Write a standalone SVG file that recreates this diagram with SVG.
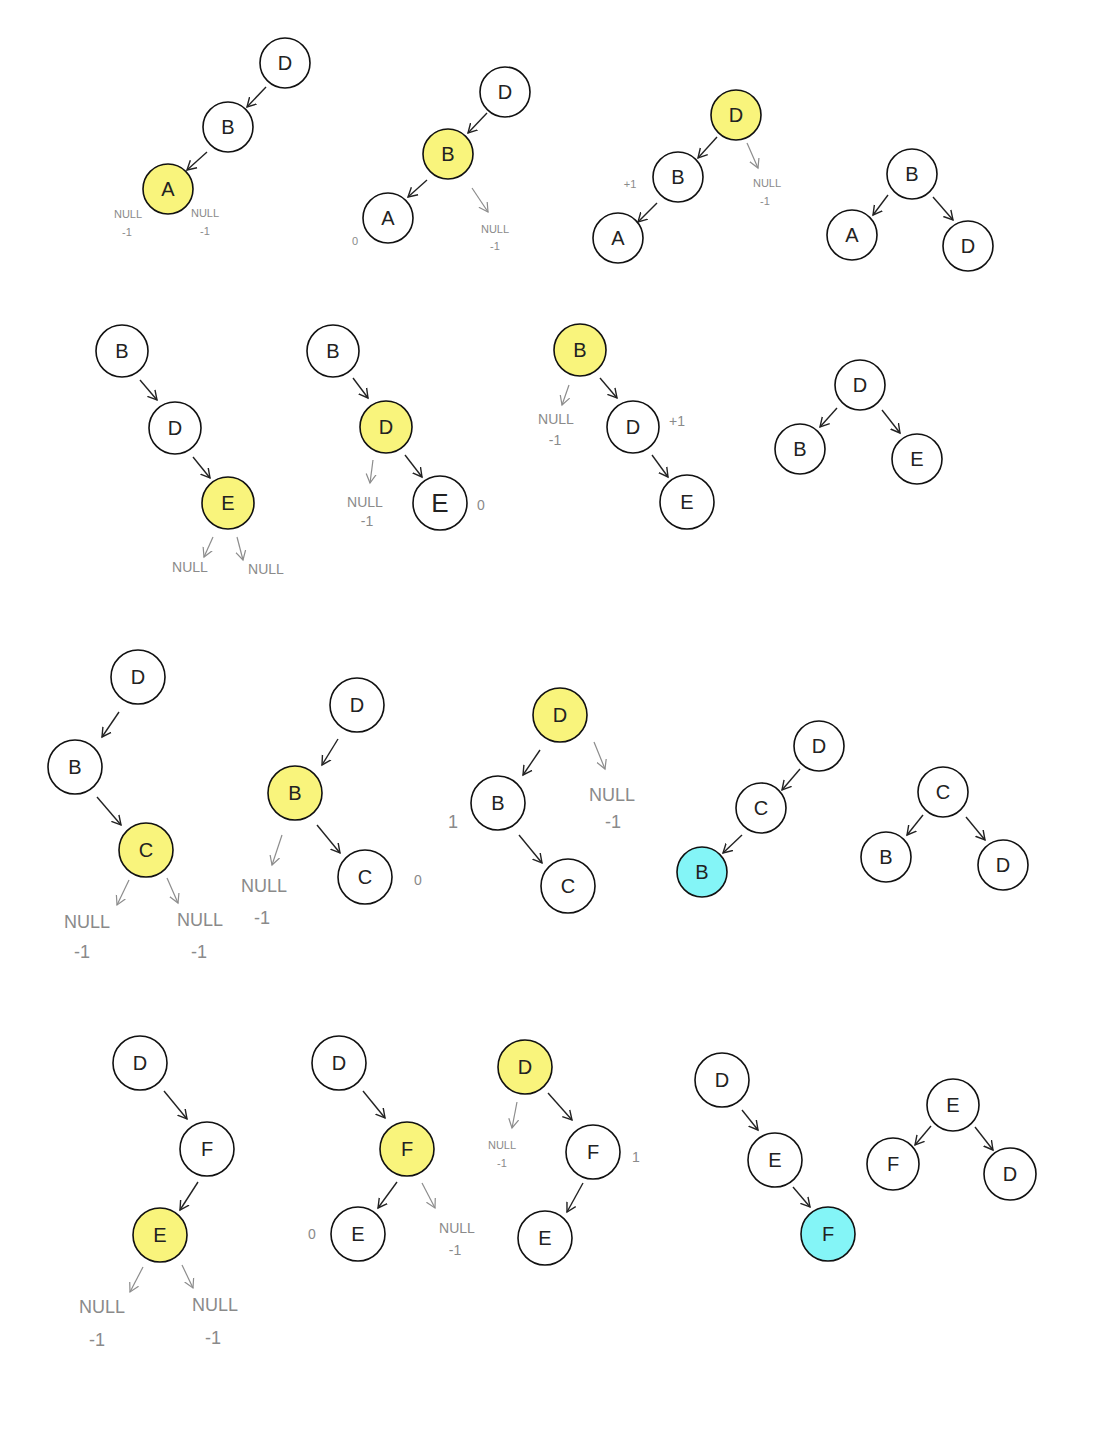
<svg xmlns="http://www.w3.org/2000/svg" width="1115" height="1440" viewBox="0 0 1115 1440">
<defs>
<marker id="ab" markerUnits="userSpaceOnUse" markerWidth="12" markerHeight="12" refX="9" refY="5" orient="auto" viewBox="0 0 12 10">
<path d="M0,0 L9,5 L0,10" fill="none" stroke="#222" stroke-width="1.4"/>
</marker>
<marker id="ag" markerUnits="userSpaceOnUse" markerWidth="12" markerHeight="12" refX="9" refY="5" orient="auto" viewBox="0 0 12 10">
<path d="M0,0 L9,5 L0,10" fill="none" stroke="#8c8c8c" stroke-width="1.2"/>
</marker>
</defs>
<style>
circle{fill:#fff;stroke:#111;stroke-width:1.6}
circle.y{fill:#f9f47c}
circle.c{fill:#84f5f7}
text{font-family:"Liberation Sans",Arial,sans-serif}
.n{font-size:20px;fill:#222;text-anchor:middle;dominant-baseline:central}
.g{fill:#8a8a8a;text-anchor:middle;dominant-baseline:central}
.s{font-size:11px}
.m{font-size:14px}
.l{font-size:18px}
.e line.b{stroke:#222;stroke-width:1.4;marker-end:url(#ab)}
.e line.k{stroke:#8c8c8c;stroke-width:1.2;marker-end:url(#ag)}
</style>
<rect width="1115" height="1440" fill="#fff"/>

<g id="connectors" class="e">
<line class="b" x1="266" y1="87" x2="247" y2="107"/>
<line class="b" x1="207" y1="152" x2="187" y2="170"/>
<line class="b" x1="487" y1="113" x2="468" y2="133"/>
<line class="b" x1="427" y1="180" x2="408" y2="197"/>
<line class="k" x1="472" y1="188" x2="488" y2="212"/>
<line class="b" x1="717" y1="137" x2="698" y2="158"/>
<line class="b" x1="657" y1="203" x2="638" y2="222"/>
<line class="k" x1="747" y1="143" x2="758" y2="168"/>
<line class="b" x1="888" y1="195" x2="873" y2="215"/>
<line class="b" x1="933" y1="197" x2="953" y2="220"/>

<line class="b" x1="140" y1="380" x2="157" y2="400"/>
<line class="b" x1="193" y1="457" x2="210" y2="478"/>
<line class="k" x1="213" y1="537" x2="204" y2="557"/>
<line class="k" x1="237" y1="537" x2="243" y2="560"/>
<line class="b" x1="353" y1="378" x2="368" y2="398"/>
<line class="b" x1="405" y1="455" x2="422" y2="477"/>
<line class="k" x1="373" y1="460" x2="370" y2="483"/>
<line class="b" x1="600" y1="378" x2="617" y2="398"/>
<line class="b" x1="652" y1="455" x2="668" y2="477"/>
<line class="k" x1="569" y1="385" x2="562" y2="405"/>
<line class="b" x1="837" y1="408" x2="820" y2="427"/>
<line class="b" x1="882" y1="410" x2="900" y2="433"/>

<line class="b" x1="119" y1="712" x2="102" y2="737"/>
<line class="b" x1="97" y1="797" x2="121" y2="825"/>
<line class="k" x1="129" y1="880" x2="117" y2="905"/>
<line class="k" x1="167" y1="878" x2="178" y2="903"/>
<line class="b" x1="338" y1="739" x2="322" y2="765"/>
<line class="b" x1="317" y1="825" x2="340" y2="853"/>
<line class="k" x1="282" y1="835" x2="272" y2="865"/>
<line class="b" x1="540" y1="750" x2="523" y2="775"/>
<line class="b" x1="519" y1="835" x2="542" y2="863"/>
<line class="k" x1="594" y1="742" x2="605" y2="769"/>
<line class="b" x1="800" y1="769" x2="782" y2="790"/>
<line class="b" x1="742" y1="835" x2="723" y2="853"/>
<line class="b" x1="923" y1="815" x2="907" y2="835"/>
<line class="b" x1="966" y1="817" x2="985" y2="840"/>

<line class="b" x1="164" y1="1091" x2="187" y2="1119"/>
<line class="b" x1="198" y1="1182" x2="180" y2="1210"/>
<line class="k" x1="143" y1="1267" x2="130" y2="1292"/>
<line class="k" x1="182" y1="1265" x2="193" y2="1288"/>
<line class="b" x1="363" y1="1091" x2="385" y2="1118"/>
<line class="b" x1="397" y1="1182" x2="378" y2="1208"/>
<line class="k" x1="422" y1="1183" x2="435" y2="1208"/>
<line class="b" x1="548" y1="1093" x2="572" y2="1120"/>
<line class="b" x1="583" y1="1183" x2="567" y2="1212"/>
<line class="k" x1="517" y1="1102" x2="512" y2="1128"/>
<line class="b" x1="742" y1="1110" x2="758" y2="1130"/>
<line class="b" x1="793" y1="1187" x2="810" y2="1207"/>
<line class="b" x1="931" y1="1126" x2="915" y2="1145"/>
<line class="b" x1="975" y1="1127" x2="993" y2="1150"/>
</g>

<!-- Row 1 -->
<g id="t1D"><circle cx="285" cy="63" r="25"/><text class="n" x="285" y="63">D</text></g>
<g id="t1B"><circle cx="228" cy="127" r="25"/><text class="n" x="228" y="127">B</text></g>
<g id="t1A"><circle class="y" cx="168" cy="189" r="25"/><text class="n" x="168" y="189">A</text></g>

<g id="t2D"><circle cx="505" cy="92" r="25"/><text class="n" x="505" y="92">D</text></g>
<g id="t2B"><circle class="y" cx="448" cy="154" r="25"/><text class="n" x="448" y="154">B</text></g>
<g id="t2A"><circle cx="388" cy="218" r="25"/><text class="n" x="388" y="218">A</text></g>

<g id="t3D"><circle class="y" cx="736" cy="115" r="25"/><text class="n" x="736" y="115">D</text></g>
<g id="t3B"><circle cx="678" cy="177" r="25"/><text class="n" x="678" y="177">B</text></g>
<g id="t3A"><circle cx="618" cy="238" r="25"/><text class="n" x="618" y="238">A</text></g>

<g id="t4B"><circle cx="912" cy="174" r="25"/><text class="n" x="912" y="174">B</text></g>
<g id="t4A"><circle cx="852" cy="235" r="25"/><text class="n" x="852" y="235">A</text></g>
<g id="t4D"><circle cx="968" cy="246" r="25"/><text class="n" x="968" y="246">D</text></g>

<!-- Row 2 -->
<g id="t5B"><circle cx="122" cy="351" r="26"/><text class="n" x="122" y="351">B</text></g>
<g id="t5D"><circle cx="175" cy="428" r="26"/><text class="n" x="175" y="428">D</text></g>
<g id="t5E"><circle class="y" cx="228" cy="503" r="26"/><text class="n" x="228" y="503">E</text></g>

<g id="t6B"><circle cx="333" cy="351" r="26"/><text class="n" x="333" y="351">B</text></g>
<g id="t6D"><circle class="y" cx="386" cy="427" r="26"/><text class="n" x="386" y="427">D</text></g>
<g id="t6E"><circle cx="440" cy="503" r="27"/><text class="n" x="440" y="503" style="font-size:26px">E</text></g>

<g id="t7B"><circle class="y" cx="580" cy="350" r="26"/><text class="n" x="580" y="350">B</text></g>
<g id="t7D"><circle cx="633" cy="427" r="26"/><text class="n" x="633" y="427">D</text></g>
<g id="t7E"><circle cx="687" cy="502" r="27"/><text class="n" x="687" y="502">E</text></g>

<g id="t8D"><circle cx="860" cy="385" r="25"/><text class="n" x="860" y="385">D</text></g>
<g id="t8B"><circle cx="800" cy="449" r="25"/><text class="n" x="800" y="449">B</text></g>
<g id="t8E"><circle cx="917" cy="459" r="25"/><text class="n" x="917" y="459">E</text></g>

<!-- Row 3 -->
<g id="t9D"><circle cx="138" cy="677" r="27"/><text class="n" x="138" y="677">D</text></g>
<g id="t9B"><circle cx="75" cy="767" r="27"/><text class="n" x="75" y="767">B</text></g>
<g id="t9C"><circle class="y" cx="146" cy="850" r="27"/><text class="n" x="146" y="850">C</text></g>

<g id="t10D"><circle cx="357" cy="705" r="27"/><text class="n" x="357" y="705">D</text></g>
<g id="t10B"><circle class="y" cx="295" cy="793" r="27"/><text class="n" x="295" y="793">B</text></g>
<g id="t10C"><circle cx="365" cy="877" r="27"/><text class="n" x="365" y="877">C</text></g>

<g id="t11D"><circle class="y" cx="560" cy="715" r="27"/><text class="n" x="560" y="715">D</text></g>
<g id="t11B"><circle cx="498" cy="803" r="27"/><text class="n" x="498" y="803">B</text></g>
<g id="t11C"><circle cx="568" cy="886" r="27"/><text class="n" x="568" y="886">C</text></g>

<g id="t12D"><circle cx="819" cy="746" r="25"/><text class="n" x="819" y="746">D</text></g>
<g id="t12C"><circle cx="761" cy="808" r="25"/><text class="n" x="761" y="808">C</text></g>
<g id="t12B"><circle class="c" cx="702" cy="872" r="25"/><text class="n" x="702" y="872">B</text></g>

<g id="t13C"><circle cx="943" cy="792" r="25"/><text class="n" x="943" y="792">C</text></g>
<g id="t13B"><circle cx="886" cy="857" r="25"/><text class="n" x="886" y="857">B</text></g>
<g id="t13D"><circle cx="1003" cy="865" r="25"/><text class="n" x="1003" y="865">D</text></g>

<!-- Row 4 -->
<g id="t15D"><circle cx="140" cy="1063" r="27"/><text class="n" x="140" y="1063">D</text></g>
<g id="t15F"><circle cx="207" cy="1149" r="27"/><text class="n" x="207" y="1149">F</text></g>
<g id="t15E"><circle class="y" cx="160" cy="1235" r="27"/><text class="n" x="160" y="1235">E</text></g>

<g id="t16D"><circle cx="339" cy="1063" r="27"/><text class="n" x="339" y="1063">D</text></g>
<g id="t16F"><circle class="y" cx="407" cy="1149" r="27"/><text class="n" x="407" y="1149">F</text></g>
<g id="t16E"><circle cx="358" cy="1234" r="27"/><text class="n" x="358" y="1234">E</text></g>

<g id="t17D"><circle class="y" cx="525" cy="1067" r="27"/><text class="n" x="525" y="1067">D</text></g>
<g id="t17F"><circle cx="593" cy="1152" r="27"/><text class="n" x="593" y="1152">F</text></g>
<g id="t17E"><circle cx="545" cy="1238" r="27"/><text class="n" x="545" y="1238">E</text></g>

<g id="t18D"><circle cx="722" cy="1080" r="27"/><text class="n" x="722" y="1080">D</text></g>
<g id="t18E"><circle cx="775" cy="1160" r="27"/><text class="n" x="775" y="1160">E</text></g>
<g id="t18F"><circle class="c" cx="828" cy="1234" r="27"/><text class="n" x="828" y="1234">F</text></g>

<g id="t19E"><circle cx="953" cy="1105" r="26"/><text class="n" x="953" y="1105">E</text></g>
<g id="t19F"><circle cx="893" cy="1164" r="26"/><text class="n" x="893" y="1164">F</text></g>
<g id="t19D"><circle cx="1010" cy="1174" r="26"/><text class="n" x="1010" y="1174">D</text></g>

<g id="labels">
<text class="g s" x="128" y="214">NULL</text><text class="g s" x="127" y="232">-1</text>
<text class="g s" x="205" y="213">NULL</text><text class="g s" x="205" y="231">-1</text>
<text class="g s" x="495" y="229">NULL</text><text class="g s" x="495" y="246">-1</text>
<text class="g s" x="355" y="241">0</text>
<text class="g s" x="767" y="183">NULL</text><text class="g s" x="765" y="201">-1</text>
<text class="g s" x="630" y="184">+1</text>

<text class="g m" x="190" y="567">NULL</text><text class="g m" x="266" y="569">NULL</text>
<text class="g m" x="365" y="502">NULL</text><text class="g m" x="367" y="521">-1</text>
<text class="g m" x="481" y="505">0</text>
<text class="g m" x="556" y="419">NULL</text><text class="g m" x="555" y="440">-1</text>
<text class="g m" x="677" y="421">+1</text>

<text class="g l" x="87" y="922">NULL</text><text class="g l" x="82" y="952">-1</text>
<text class="g l" x="200" y="920">NULL</text><text class="g l" x="199" y="952">-1</text>
<text class="g l" x="264" y="886">NULL</text><text class="g l" x="262" y="918">-1</text>
<text class="g m" x="418" y="880">0</text>
<text class="g l" x="612" y="795">NULL</text><text class="g l" x="613" y="822">-1</text>
<text class="g l" x="453" y="822">1</text>

<text class="g l" x="102" y="1307">NULL</text><text class="g l" x="97" y="1340">-1</text>
<text class="g l" x="215" y="1305">NULL</text><text class="g l" x="213" y="1338">-1</text>
<text class="g m" x="457" y="1228">NULL</text><text class="g m" x="455" y="1250">-1</text>
<text class="g m" x="312" y="1234">0</text>
<text class="g s" x="502" y="1145">NULL</text><text class="g s" x="502" y="1163">-1</text>
<text class="g m" x="636" y="1157">1</text>
</g>
</svg>
